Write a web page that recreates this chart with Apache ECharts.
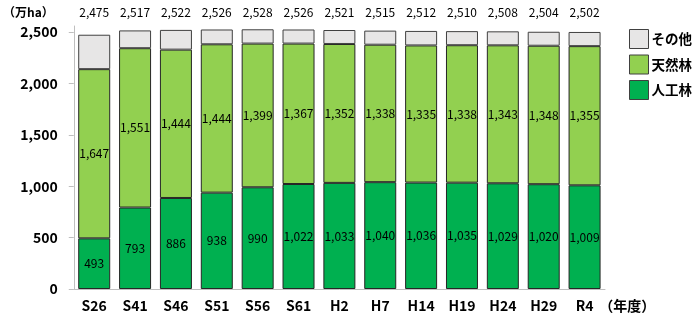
<!DOCTYPE html>
<html>
<head>
<meta charset="utf-8">
<script src="https://cdn.jsdelivr.net/npm/echarts@6/dist/echarts.min.js"></script>
<style>
  html, body { margin: 0; padding: 0; background: #fff; }
  #chart { width: 700px; height: 318px; }
</style>
</head>
<body>
<div id="chart"></div>
<script>
// 年度
var years = ['S26', 'S41', 'S46', 'S51', 'S56', 'S61', 'H2', 'H7', 'H14', 'H19', 'H24', 'H29', 'R4'];
// 合計（万ha）
var totals = [2475, 2517, 2522, 2526, 2528, 2526, 2521, 2515, 2512, 2510, 2508, 2504, 2502];
// 人工林
var planted = [493, 793, 886, 938, 990, 1022, 1033, 1040, 1036, 1035, 1029, 1020, 1009];
// 天然林
var natural = [1647, 1551, 1444, 1444, 1399, 1367, 1352, 1338, 1335, 1338, 1343, 1348, 1355];
// その他
var other = [335, 173, 192, 144, 139, 137, 136, 137, 141, 137, 136, 136, 138];
// 目盛
var yTicks = [0, 500, 1000, 1500, 2000, 2500];

var FONT = '"Noto Sans CJK JP", "Noto Sans", sans-serif';

function fmt(v) {
    return v.toLocaleString('en-US');
}

var barLabel = {
    show: true,
    position: 'inside',
    color: '#000',
    fontFamily: FONT,
    fontSize: 12,
    formatter: function (p) { return fmt(p.value); }
};

var myChart = echarts.init(document.getElementById('chart'));
var option = {
    animation: false,
    textStyle: { fontFamily: FONT },
    grid: { left: 62, right: 95, top: 26, bottom: 29 },
    legend: {
        orient: 'vertical',
        left: 629,
        top: 29,
        padding: 0,
        itemWidth: 19,
        itemHeight: 19,
        itemGap: 5.5,
        icon: 'rect',
        data: ['その他', '天然林', '人工林'],
        textStyle: { fontFamily: FONT, fontSize: 13.5, fontWeight: 'bold', color: '#000', padding: [0, 0, 0, -2] },
        itemStyle: { borderColor: '#404040', borderWidth: 1 }
    },
    xAxis: [
        {
            type: 'category',
            data: years,
            axisLine: { lineStyle: { color: '#bfbfbf' } },
            axisTick: { show: false },
            axisLabel: { color: '#000', fontSize: 14, fontWeight: 'bold', fontFamily: FONT, margin: 10 },
            name: '（年度）',
            nameLocation: 'end',
            nameGap: -12,
            nameTextStyle: { color: '#000', fontSize: 14, fontWeight: 'bold', fontFamily: FONT, align: 'left', verticalAlign: 'top', padding: [10, 0, 0, 0] }
        },
        {
            type: 'category',
            position: 'top',
            data: totals.map(fmt),
            axisLine: { show: false },
            axisTick: { show: false },
            axisLabel: { color: '#000', fontSize: 12, fontFamily: FONT, margin: 8 }
        }
    ],
    yAxis: {
        type: 'value',
        min: 0,
        max: 2560,
        interval: 500,
        splitLine: { show: false },
        axisLine: { show: true, lineStyle: { color: '#bfbfbf' } },
        axisTick: { show: true, length: 5, lineStyle: { color: '#bfbfbf' } },
        axisLabel: {
            color: '#000', fontSize: 14, fontWeight: 'bold', fontFamily: FONT, margin: 16,
            showMaxLabel: false,
            formatter: function (v) { return yTicks.indexOf(v) >= 0 ? fmt(v) : ''; }
        },
        name: '（万ha）',
        nameLocation: 'end',
        nameGap: 8,
        nameTextStyle: { color: '#000', fontSize: 12, fontWeight: 'bold', fontFamily: FONT, align: 'right', padding: [0, 20, 0, 0] }
    },
    series: [
        {
            name: '人工林', type: 'bar', stack: 'total', data: planted, barWidth: 32,
            itemStyle: { color: '#00b050', borderColor: '#262626', borderWidth: 1 },
            label: barLabel
        },
        {
            name: '天然林', type: 'bar', stack: 'total', data: natural, barWidth: 32,
            itemStyle: { color: '#92d050', borderColor: '#262626', borderWidth: 1 },
            label: barLabel
        },
        {
            name: 'その他', type: 'bar', stack: 'total', data: other, barWidth: 32,
            itemStyle: { color: '#e7e6e6', borderColor: '#404040', borderWidth: 1 },
            label: { show: false }
        }
    ]
};
myChart.setOption(option);
</script>
</body>
</html>
